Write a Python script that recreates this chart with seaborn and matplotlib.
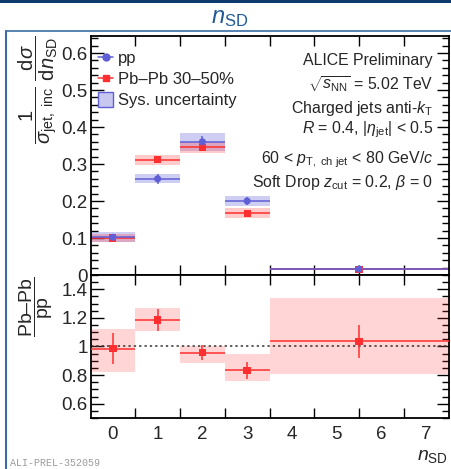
import numpy as np
import pandas as pd
import matplotlib
matplotlib.use("Agg")
import matplotlib.pyplot as plt
from matplotlib.lines import Line2D
from matplotlib.patches import Patch, Rectangle
from matplotlib.ticker import MultipleLocator, FixedLocator
from matplotlib.colors import to_rgba
import seaborn as sns

# n_SD bins (last bin is wide: 3.5 - 7.5)
bin_lo = np.array([-0.5, 0.5, 1.5, 2.5, 3.5])
bin_hi = np.array([0.5, 1.5, 2.5, 3.5, 7.5])
n_sd = np.array([0, 1, 2, 3, 5.5])

# pp distribution
pp_val = np.array([0.102, 0.260, 0.360, 0.200, 0.016])
pp_stat = np.array([0.005, 0.013, 0.017, 0.010, 0.002])
pp_sys = np.array([0.013, 0.012, 0.024, 0.014, 0.003])

# Pb-Pb 30-50% distribution
pb_val = np.array([0.100, 0.311, 0.345, 0.167, 0.016])
pb_stat = np.array([0.004, 0.006, 0.007, 0.005, 0.002])
pb_sys = np.array([0.011, 0.013, 0.015, 0.014, 0.003])

# ratio Pb-Pb / pp
ratio_val = np.array([0.985, 1.185, 0.957, 0.833, 1.035])
ratio_stat = np.array([0.11, 0.075, 0.05, 0.06, 0.115])
ratio_sys_lo = np.array([0.82, 1.11, 0.888, 0.756, 0.81])
ratio_sys_hi = np.array([1.12, 1.27, 1.005, 0.945, 1.34])

xtick_labels = ["0", "1", "2", "3", "4", "5", "6", "7"]

pp_col = "#5f5fd6"
pb_col = "#ff2f2f"

sns.set_theme(style="ticks")
plt.rcParams["font.family"] = ["Liberation Sans", "DejaVu Sans"]
plt.rcParams["mathtext.fontset"] = "custom"
plt.rcParams["mathtext.rm"] = "Liberation Sans"
plt.rcParams["mathtext.it"] = "Liberation Sans:italic"
plt.rcParams["mathtext.bf"] = "Liberation Sans:bold"

fig = plt.figure(figsize=(4.51, 4.69), dpi=100)
W, H = 451.0, 469.0
left, right = 90.5 / W, 448.5 / W
ax = fig.add_axes([left, (H - 275) / H, right - left, 239 / H])
axr = fig.add_axes([left, (H - 418) / H, right - left, 143 / H])

xerr = [n_sd - bin_lo, bin_hi - n_sd]
df_pp = pd.DataFrame({"n_sd": n_sd, "val": pp_val})
df_pb = pd.DataFrame({"n_sd": n_sd, "val": pb_val})
df_r = pd.DataFrame({"n_sd": n_sd, "val": ratio_val})

# upper panel: sys boxes
ax.bar(n_sd, 2 * pp_sys, width=bin_hi - bin_lo, bottom=pp_val - pp_sys,
       color=pp_col, alpha=0.3, lw=0, zorder=1)
ax.bar(n_sd, 2 * pb_sys, width=bin_hi - bin_lo, bottom=pb_val - pb_sys,
       color=pb_col, alpha=0.25, lw=0, zorder=1)
ax.errorbar(n_sd, pb_val, xerr=xerr, yerr=pb_stat, fmt="none",
            ecolor=pb_col, elinewidth=1.1, capsize=0, zorder=2)
ax.errorbar(n_sd, pp_val, xerr=xerr, yerr=pp_stat, fmt="none",
            ecolor=pp_col, elinewidth=1.1, capsize=0, zorder=2)
sns.scatterplot(data=df_pb, x="n_sd", y="val", ax=ax, marker="s", s=26,
                color=pb_col, edgecolor="none", zorder=3, legend=False)
sns.scatterplot(data=df_pp, x="n_sd", y="val", ax=ax, marker="o", s=26,
                color=pp_col, edgecolor="none", zorder=4, legend=False)

# lower panel: ratio
axr.bar(n_sd, ratio_sys_hi - ratio_sys_lo, width=bin_hi - bin_lo,
        bottom=ratio_sys_lo, color=pb_col, alpha=0.2, lw=0, zorder=1)
axr.axhline(1, color="#333333", ls=(0, (1.5, 2)), lw=1.1, zorder=2)
axr.errorbar(n_sd, ratio_val, xerr=xerr, yerr=ratio_stat, fmt="none",
             ecolor=pb_col, elinewidth=1.1, capsize=0, zorder=3)
sns.scatterplot(data=df_r, x="n_sd", y="val", ax=axr, marker="s", s=28,
                color=pb_col, edgecolor="none", zorder=4, legend=False)

for a in (ax, axr):
    a.set_xlim(-0.5, 7.5)
    a.set_xlabel("")
    a.set_ylabel("")
    a.xaxis.set_major_locator(FixedLocator(np.arange(0.5, 7, 1.0)))
    a.xaxis.set_minor_locator(FixedLocator(np.arange(0, 8)))
    a.tick_params(which="both", direction="in", top=True, right=True,
                  color="black", width=1.0, labelsize=13.5, pad=2)
    a.tick_params(axis="x", which="major", length=7, labelbottom=False)
    a.tick_params(axis="x", which="minor", length=0)
    a.tick_params(axis="y", which="major", length=9)
    a.tick_params(axis="y", which="minor", length=5)
    for s in a.spines.values():
        s.set_linewidth(1.3)
        s.set_color("black")

ax.set_ylim(0, 0.646)
ax.yaxis.set_minor_locator(MultipleLocator(0.02))
ax.set_yticks([0, 0.1, 0.2, 0.3, 0.4, 0.5, 0.6])
ax.set_yticklabels(["0", "0.1", "0.2", "0.3", "0.4", "0.5", "0.6"])
ax.tick_params(axis="x", which="minor", labelbottom=False)

axr.set_ylim(0.5, 1.5)
axr.set_yticks([0.6, 0.8, 1.0, 1.2, 1.4])
axr.set_yticklabels(["0.6", "0.8", "1", "1.2", "1.4"])
axr.yaxis.set_minor_locator(MultipleLocator(0.05))
axr.set_xticks(np.arange(0, 8), minor=True)
axr.set_xticklabels(xtick_labels, minor=True)
axr.tick_params(axis="x", which="minor", labelbottom=True, labelsize=13.5, pad=6)

# legend
handles = [
    Line2D([], [], color=pp_col, marker="o", markersize=5, lw=1.1),
    Line2D([], [], color=pb_col, marker="s", markersize=5, lw=1.1),
    Patch(facecolor=to_rgba(pp_col, 0.35), edgecolor=pp_col, lw=1.0),
]
leg = ax.legend(handles, ["pp", "Pb\u2013Pb 30\u201350%", "Sys. uncertainty"],
                loc="upper left", bbox_to_anchor=(0.02, 0.94), frameon=False,
                fontsize=12, handlelength=0.95, handleheight=0.95,
                handletextpad=0.25, labelspacing=0.3, borderpad=0,
                borderaxespad=0)

# info text
info = [
    ("ALICE Preliminary", 0.879),
    (r"$\sqrt{s_{\mathrm{NN}}}$ = 5.02 TeV", 0.778),
    (r"Charged jets anti-$k_{\mathrm{T}}$", 0.678),
    (r"$R$ = 0.4, |$\eta_{\mathrm{jet}}$| < 0.5", 0.594),
    (r"60 < $p_{\mathrm{T,\ ch\ jet}}$ < 80 GeV/$c$", 0.469),
    (r"Soft Drop $z_{\mathrm{cut}}$ = 0.2, $\beta$ = 0", 0.368),
]
for txt, yy in info:
    ax.text(0.957, yy, txt, transform=ax.transAxes, ha="right", va="baseline",
            fontsize=11.4)

# axis titles
fig.text(38 / W, 1 - 90 / H,
         r"$\dfrac{1}{\sigma_{\mathrm{jet,\ inc}}}\ \dfrac{\mathrm{d}\sigma}{\mathrm{d}n_{\mathrm{SD}}}$",
         rotation=90, ha="center", va="center", fontsize=14.5)
fig.text(36 / W, 1 - 307 / H, "$\\dfrac{\\mathrm{Pb\u2013Pb}}{\\mathrm{pp}}$",
         rotation=90, ha="center", va="center", fontsize=14)
fig.text(448 / W, 1 - 460 / H, r"$n_{\mathrm{SD}}$",
         ha="right", va="baseline", fontsize=14)

# slide decoration
fig.text(230 / W, 1 - 18 / H, r"$n_{\mathrm{SD}}$", color="#1f5a96",
         ha="center", va="center", fontsize=17)
fig.add_artist(Rectangle((0, 1 - 3.5 / H), 1, 3.5 / H, transform=fig.transFigure,
                         color="#0e3b6d", lw=0))
fig.add_artist(Line2D([6 / W, 1], [1 - 31 / H, 1 - 31 / H], transform=fig.transFigure,
                      color="#3b6da3", lw=1.2))
fig.add_artist(Line2D([6 / W, 6 / W], [0, 1 - 31 / H], transform=fig.transFigure,
                      color="#3b6da3", lw=1.5))
fig.text(10 / W, 1 - 463 / H, "ALI-PREL-352059", family="Liberation Mono",
         color="#9a9a9a", fontsize=7.2, ha="left", va="center")

fig.savefig("out.png", dpi=100)
